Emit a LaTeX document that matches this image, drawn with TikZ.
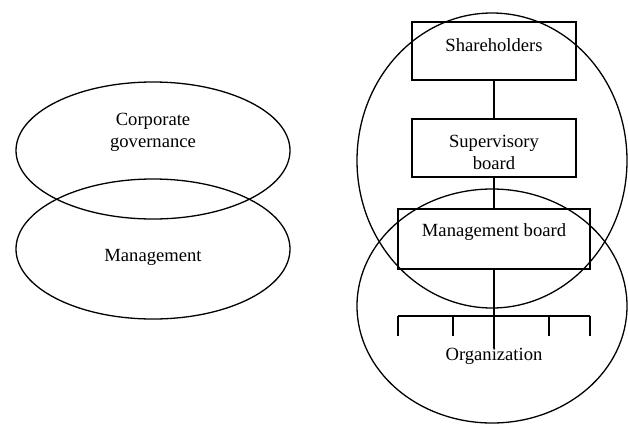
\documentclass[tikz,border=0pt]{standalone}
\usepackage{fontspec}
\setmainfont{Liberation Serif}
\usetikzlibrary{shapes.geometric}
\begin{document}
\begin{tikzpicture}[x=1pt,y=-1pt,
  ln/.style={line width=1.3pt},
  oval/.style={ln,draw,ellipse,inner sep=0pt},
  boxn/.style={ln,draw,rectangle,inner sep=0pt},
  txt/.style={font=\fontsize{18.6}{21.5}\selectfont,align=center,inner sep=0pt}]
\useasboundingbox (0,0) rectangle (628,424);
% left
\node[oval,minimum width=274pt,minimum height=137pt] (cg) at (153,150.5) {};
\node[oval,minimum width=274pt,minimum height=140pt] (mg) at (153,249) {};
\node[txt] (cgt) at (153,132.5) {Corporate\\governance};
\node[txt] (mgt) at (153,257) {Management};
% right circles
\node[oval,minimum width=270pt,minimum height=295pt] (top) at (492,160.5) {};
\node[oval,minimum width=270pt,minimum height=234pt] (bot) at (492,306) {};
% boxes
\node[boxn,minimum width=164pt,minimum height=58pt] (sh) at (494,51) {};
\node[boxn,minimum width=164pt,minimum height=58pt] (sup) at (494,148) {};
\node[boxn,minimum width=192pt,minimum height=60pt] (mb) at (494,239) {};
\node[txt] (sht) at (494,45) {Shareholders};
\node[txt] (supt) at (494,152.5) {Supervisory\\board};
\node[txt] (mbt) at (494,232) {Management board};
\node[txt] (org) at (494,356) {Organization};
% connectors
\draw[ln] (sh.south) -- (sup.north);
\draw[ln] (sup.south) -- (mb.north);
\coordinate (oe) at (494,348);
\draw[ln] (mb.south) -- (oe);
\coordinate (bl) at (398,316);
\coordinate (br) at (590,316);
\draw[ln] (bl) -- (br);
\coordinate (t1) at (398,336);
\coordinate (t2) at (453,336);
\coordinate (t4) at (549,336);
\coordinate (t5) at (590,336);
\draw[ln] (bl) -- (t1);
\draw[ln] (br) -- (t5);
\draw[ln] (t2 |- bl) -- (t2);
\draw[ln] (t4 |- bl) -- (t4);
\end{tikzpicture}
\end{document}
